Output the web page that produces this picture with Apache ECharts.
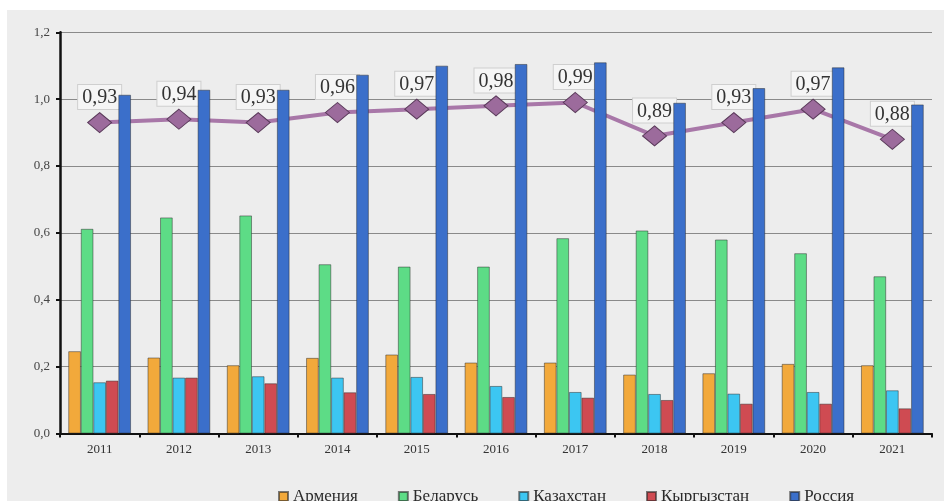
<!DOCTYPE html>
<html><head><meta charset="utf-8">
<script src="https://cdn.jsdelivr.net/npm/echarts@6/dist/echarts.min.js"></script>
<style>html,body{margin:0;padding:0;background:#fff;}#c{width:944px;height:501px;}</style>
</head><body><div id="c"></div>
<script>
const years = ['2011','2012','2013','2014','2015','2016','2017','2018','2019','2020','2021'];
const armenia    = [0.246,0.227,0.204,0.226,0.236,0.212,0.212,0.176,0.180,0.208,0.204];
const belarus    = [0.612,0.646,0.652,0.506,0.499,0.499,0.584,0.607,0.580,0.539,0.470];
const kazakhstan = [0.153,0.167,0.171,0.167,0.169,0.142,0.124,0.118,0.119,0.124,0.129];
const kyrgyzstan = [0.158,0.167,0.150,0.123,0.118,0.109,0.107,0.100,0.089,0.089,0.075];
const russia     = [1.013,1.028,1.028,1.073,1.100,1.105,1.110,0.989,1.033,1.095,0.984];
const index      = [0.93,0.94,0.93,0.96,0.97,0.98,0.99,0.89,0.93,0.97,0.88];
const yTicks = [0,0.2,0.4,0.6,0.8,1.0,1.2];

const serif = 'Liberation Serif';
const chart = echarts.init(document.getElementById('c'));
function bar(name, data, color){
  return {name, type:'bar', data, barGap:'0%', barCategoryGap:'21%',
    itemStyle:{color, borderColor:'rgba(40,40,40,0.6)', borderWidth:0.8}};
}
chart.setOption({
  animation:false,
  backgroundColor:'#fff',
  graphic:[{type:'rect', z:-100, shape:{x:7,y:10,width:937,height:491}, style:{fill:'#ededed'}, silent:true}],
  grid:{left:60,right:12,top:32.3,bottom:67.5},
  legend:{
    data:['Армения','Беларусь','Казахстан','Кыргызстан','Россия'],
    top:483, left:273, itemWidth:9, itemHeight:9, itemGap:40,
    icon:'rect',
    textStyle:{fontFamily:serif,fontSize:17,color:'#2a2a2a'}
  },
  xAxis:{
    type:'category', data:years,
    axisLine:{lineStyle:{color:'#111',width:2}},
    axisTick:{show:true,length:4,lineStyle:{color:'#111',width:2}},
    axisLabel:{fontFamily:serif,fontSize:13,color:'#333',margin:10}
  },
  yAxis:{
    type:'value', min:yTicks[0], max:yTicks[yTicks.length-1], interval:0.2,
    axisLine:{show:true,lineStyle:{color:'#111',width:2.5}},
    axisTick:{show:true,length:4,lineStyle:{color:'#111',width:2}},
    splitLine:{lineStyle:{color:'#8a8a8a',width:1}},
    axisLabel:{fontFamily:serif,fontSize:13,color:'#444',margin:10,
      formatter:v=>v.toFixed(1).replace('.',',')}
  },
  series:[
    bar('Армения',armenia,'#f2a93b'),
    bar('Беларусь',belarus,'#5ddc86'),
    bar('Казахстан',kazakhstan,'#3cc6f2'),
    bar('Кыргызстан',kyrgyzstan,'#cf4b52'),
    bar('Россия',russia,'#3b6fca'),
    {name:'Индекс', type:'line', data:index, z:1,
      symbol:'diamond', symbolSize:[24,20],
      lineStyle:{color:'#a877a8',width:4},
      itemStyle:{color:'#9c6b9c',borderColor:'#5a3a5a',borderWidth:1},
      label:{show:true,position:'top',distance:3,
        formatter:p=>p.value.toFixed(2).replace('.',','),
        fontFamily:serif,fontSize:20,color:'#333',
        backgroundColor:'#f5f5f5',borderColor:'#cfcfcf',borderWidth:1,padding:[3,4,1,4]}
    }
  ]
});
</script></body></html>
